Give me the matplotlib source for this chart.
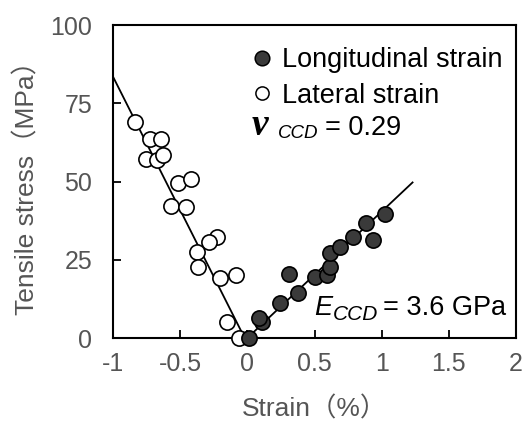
import matplotlib
matplotlib.use("Agg")
import matplotlib.pyplot as plt

# Data
lat_x = [-0.836, -0.724, -0.642, -0.756, -0.674, -0.629, -0.513, -0.42, -0.569, -0.455,
         -0.226, -0.289, -0.375, -0.368, -0.201, -0.082, -0.151, -0.065]
lat_y = [69.1, 63.5, 63.5, 57.2, 56.9, 58.5, 49.4, 50.7, 42.2, 41.8,
         32.4, 30.8, 27.6, 22.6, 19.1, 20.0, 5.2, 0.0]
lon_x = [0.01, 0.11, 0.084, 0.241, 0.378, 0.308, 0.502, 0.595, 0.619, 0.614,
         0.689, 0.789, 0.881, 0.938, 1.022]
lon_y = [0.0, 5.2, 6.3, 11.1, 14.5, 20.4, 19.6, 20.1, 22.6, 27.3,
         29.0, 32.2, 36.8, 31.3, 39.5]
fit_lat_x = [-1.0, -0.02]
fit_lat_y = [83.5, 0.0]
fit_lon_x = [0.0, 1.23]
fit_lon_y = [0.0, 49.7]
xticks = [-1, -0.5, 0, 0.5, 1, 1.5, 2]
xticklabels = ["-1", "-0.5", "0", "0.5", "1", "1.5", "2"]
yticks = [0, 25, 50, 75, 100]

fam = ['Liberation Sans', 'Noto Sans CJK JP', 'DejaVu Sans']
plt.rcParams['font.family'] = fam

W, H = 523, 426
fig = plt.figure(figsize=(W / 100, H / 100), dpi=100)
ax = fig.add_axes([113 / W, (H - 338) / H, (516 - 113) / W, (338 - 25) / H])

ax.plot(fit_lat_x, fit_lat_y, color='black', lw=1.3, zorder=2)
ax.plot(fit_lon_x, fit_lon_y, color='black', lw=1.3, zorder=2)
ax.scatter(lat_x, lat_y, s=120, facecolor='white', edgecolor='black', linewidth=1.2, zorder=3, clip_on=False)
ax.scatter(lon_x, lon_y, s=120, facecolor='#3a3a3a', edgecolor='black', linewidth=1.2, zorder=4, clip_on=False)

ax.set_xlim(-1, 2)
ax.set_ylim(0, 100)
ax.set_xticks(xticks)
ax.set_xticklabels(xticklabels)
ax.set_yticks(yticks)
for s in ax.spines.values():
    s.set_linewidth(1.5)
    s.set_color('black')
ax.tick_params(direction='in', length=6, width=1.3, colors='black', labelcolor='#555555',
               labelsize=18)
ax.tick_params(axis='x', pad=10)
ax.tick_params(axis='y', pad=15)
ax.set_xlabel('Strain（%）', fontsize=19, color='#555555', labelpad=15)
ax.set_ylabel('Tensile stress（MPa）', fontsize=19, color='#555555', labelpad=8)


def fx(px):
    return px / W


def fy(py):
    return (H - py) / H


ft = fig.transFigure
# legend-like annotations
fig.lines.append(plt.Line2D([fx(261.7)], [fy(58.3)], marker='o', ms=10.5, mfc='#3a3a3a',
                            mec='black', mew=1.1, transform=ft))
fig.text(fx(281.7), fy(66.7), 'Longitudinal strain', fontsize=19.5, va='baseline', ha='left')
fig.lines.append(plt.Line2D([fx(261.7)], [fy(93.3)], marker='o', ms=9.5, mfc='white',
                            mec='black', mew=1.1, transform=ft))
fig.text(fx(281.7), fy(102.7), 'Lateral strain', fontsize=19.5, va='baseline', ha='left')

fig.text(fx(252), fy(135), 'ν', fontsize=27, va='baseline', ha='left',
         family=['Liberation Serif', 'DejaVu Serif'], fontweight='bold', fontstyle='italic')
fig.text(fx(278), fy(138.5), 'CCD', fontsize=13.5, va='baseline', ha='left', fontstyle='italic')
fig.text(fx(325), fy(135), '= 0.29', fontsize=19.5, va='baseline', ha='left')

fig.text(fx(314), fy(315), 'E', fontsize=19.5, va='baseline', ha='left', fontstyle='italic')
fig.text(fx(333), fy(320), 'CCD', fontsize=15, va='baseline', ha='left', fontstyle='italic')
fig.text(fx(383), fy(315), '= 3.6 GPa', fontsize=19.5, va='baseline', ha='left')

fig.savefig('out.png', dpi=100)
